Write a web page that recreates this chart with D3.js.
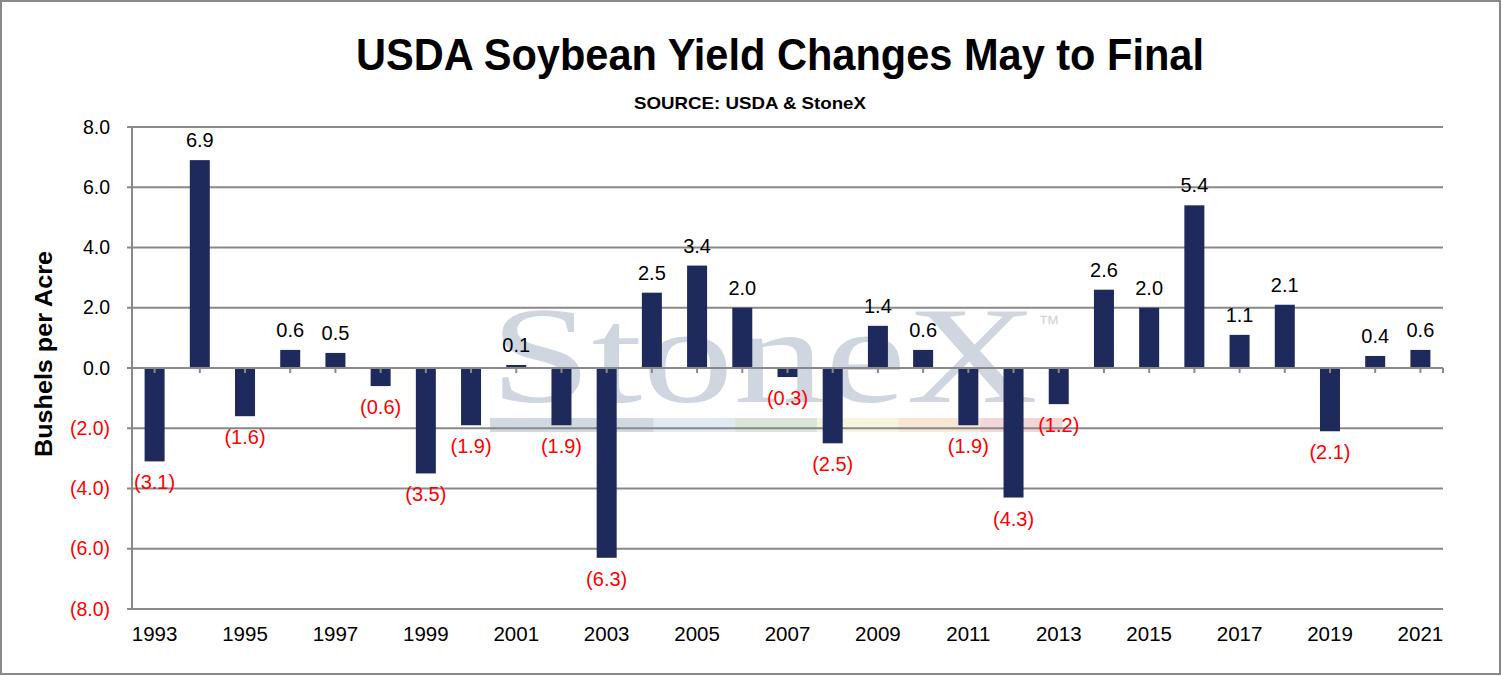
<!DOCTYPE html>
<html>
<head>
<meta charset="utf-8">
<script src="https://cdn.jsdelivr.net/npm/d3@7"></script>
<style>
  body { margin: 0; background: #fff; }
  svg { display: block; font-family: "Liberation Sans", Arial, sans-serif; }
</style>
</head>
<body>
<svg id="chart" width="1502" height="676"></svg>
<script>
// chart data
const years = [1993, 1994, 1995, 1996, 1997, 1998, 1999, 2000, 2001, 2002, 2003, 2004, 2005, 2006, 2007,
               2008, 2009, 2010, 2011, 2012, 2013, 2014, 2015, 2016, 2017, 2018, 2019, 2020, 2021];
const yieldChange = [-3.1, 6.9, -1.6, 0.6, 0.5, -0.6, -3.5, -1.9, 0.1, -1.9, -6.3, 2.5, 3.4, 2.0, -0.3,
                     -2.5, 1.4, 0.6, -1.9, -4.3, -1.2, 2.6, 2.0, 5.4, 1.1, 2.1, -2.1, 0.4, 0.6];
const yTicks = [-8, -6, -4, -2, 0, 2, 4, 6, 8];
const yearLabels = [1993, 1995, 1997, 1999, 2001, 2003, 2005, 2007, 2009, 2011, 2013, 2015, 2017, 2019, 2021];

const svg = d3.select("#chart");
const W = 1502, H = 676;
const plot = { left: 132, right: 1443, top: 127, bottom: 609 };
const gridColor = "#898989";
const barColor = "#1f2a5c";

// format like excel: negatives in parentheses
const fmt = v => v < 0 ? "(" + Math.abs(v).toFixed(1) + ")" : v.toFixed(1);

const x = d3.scaleBand().domain(years).range([plot.left, plot.right]).padding(0);
const y = d3.scaleLinear().domain([-8, 8]).range([plot.bottom, plot.top]);
const barW = 20;

// outer frame
svg.append("rect")
    .attr("x", 1).attr("y", 1).attr("width", W - 3).attr("height", H - 3)
    .attr("fill", "#fff").attr("stroke", gridColor).attr("stroke-width", 2);

// title + source
svg.append("text")
    .attr("x", 780).attr("y", 70)
    .attr("text-anchor", "middle")
    .attr("font-size", 44).attr("font-weight", "bold")
    .attr("textLength", 848).attr("lengthAdjust", "spacingAndGlyphs")
    .text("USDA Soybean Yield Changes May to Final");

svg.append("text")
    .attr("x", 750).attr("y", 109)
    .attr("text-anchor", "middle")
    .attr("font-size", 17).attr("font-weight", "bold")
    .attr("textLength", 232).attr("lengthAdjust", "spacingAndGlyphs")
    .text("SOURCE: USDA & StoneX");

// watermark behind everything in the plot
const wm = svg.append("g").attr("opacity", 0.85);
const stripColors = ["#c9d3df", "#c9d3df", "#dbe7f2", "#d3e2d2", "#f5f3d6", "#f8e3cf", "#f1cfd2"];
const stripX = d3.scaleLinear().domain([0, stripColors.length]).range([490, 1062]);
wm.selectAll("rect.strip")
    .data(stripColors)
    .enter()
    .append("rect")
    .attr("class", "strip")
    .attr("x", (d, i) => stripX(i))
    .attr("y", 418)
    .attr("width", stripX(1) - stripX(0) + 0.5)
    .attr("height", 14)
    .attr("fill", d => d);
wm.append("text")
    .attr("x", 490).attr("y", 402)
    .attr("font-family", "'Liberation Serif', 'DejaVu Serif', serif")
    .attr("font-size", 138)
    .attr("fill", "#c8d0da")
    .attr("textLength", 548).attr("lengthAdjust", "spacingAndGlyphs")
    .text("StoneX");
wm.append("text")
    .attr("x", 1038).attr("y", 331)
    .attr("font-size", 22)
    .attr("fill", "#c8d0da")
    .text("™");

// gridlines
svg.append("g")
    .selectAll("line")
    .data(yTicks)
    .enter()
    .append("line")
    .attr("x1", plot.left - 5)
    .attr("x2", plot.right)
    .attr("y1", d => y(d))
    .attr("y2", d => y(d))
    .attr("stroke", gridColor)
    .attr("stroke-width", 2);

// left axis line
svg.append("line")
    .attr("x1", plot.left).attr("x2", plot.left)
    .attr("y1", plot.top).attr("y2", plot.bottom)
    .attr("stroke", gridColor).attr("stroke-width", 2);

// y tick labels
svg.append("g")
    .selectAll("text")
    .data(yTicks)
    .enter()
    .append("text")
    .attr("x", 110)
    .attr("y", d => y(d) + 6.5)
    .attr("text-anchor", "end")
    .attr("font-size", 19.5)
    .attr("fill", d => d < 0 ? "#ff0000" : "#000")
    .text(d => fmt(d));

// y axis title
svg.append("text")
    .attr("transform", "translate(52," + 354 + ") rotate(-90)")
    .attr("text-anchor", "middle")
    .attr("font-size", 24)
    .attr("font-weight", "bold")
    .attr("textLength", 206).attr("lengthAdjust", "spacingAndGlyphs")
    .text("Bushels per Acre");

// bars
svg.append("g")
    .selectAll("rect")
    .data(years)
    .enter()
    .append("rect")
    .attr("x", (d, i) => x(d) + x.bandwidth() / 2 - barW / 2)
    .attr("y", (d, i) => y(Math.max(0, yieldChange[i])))
    .attr("width", barW)
    .attr("height", (d, i) => Math.abs(y(yieldChange[i]) - y(0)))
    .attr("fill", barColor);

// category ticks on the zero line
const tickXs = years.map(d => x(d) + x.bandwidth() / 2).concat([plot.right]);
svg.append("g")
    .selectAll("line")
    .data(tickXs)
    .enter()
    .append("line")
    .attr("x1", d => d).attr("x2", d => d)
    .attr("y1", y(0)).attr("y2", y(0) + 5)
    .attr("stroke", gridColor)
    .attr("stroke-width", 2);

// zero line over bars
svg.append("line")
    .attr("x1", plot.left).attr("x2", plot.right)
    .attr("y1", y(0)).attr("y2", y(0))
    .attr("stroke", gridColor).attr("stroke-width", 2);

// value labels
svg.append("g")
    .selectAll("text")
    .data(years)
    .enter()
    .append("text")
    .attr("x", d => x(d) + x.bandwidth() / 2)
    .attr("y", (d, i) => yieldChange[i] < 0 ? y(yieldChange[i]) + 28 : y(yieldChange[i]) - 13)
    .attr("text-anchor", "middle")
    .attr("font-size", 20)
    .attr("fill", (d, i) => yieldChange[i] < 0 ? "#ff0000" : "#000")
    .text((d, i) => fmt(yieldChange[i]));

// year labels under the plot
svg.append("g")
    .selectAll("text")
    .data(yearLabels)
    .enter()
    .append("text")
    .attr("x", d => x(d) + x.bandwidth() / 2)
    .attr("y", 641)
    .attr("text-anchor", "middle")
    .attr("font-size", 20.5)
    .attr("fill", "#000")
    .text(d => d);
</script>
</body>
</html>
